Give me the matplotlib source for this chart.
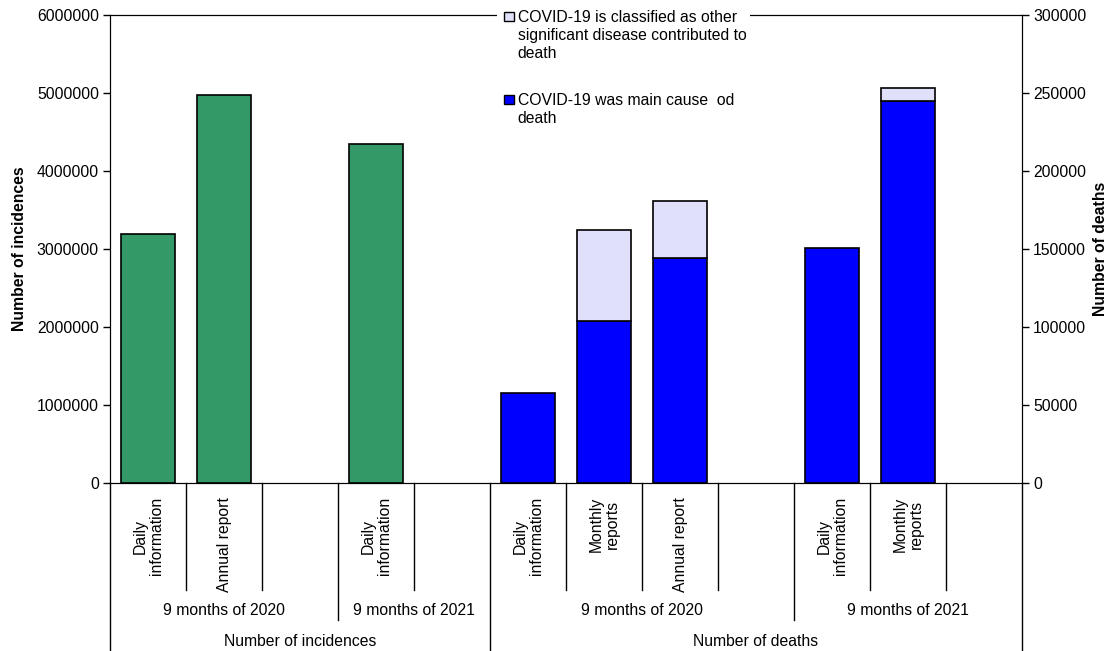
import matplotlib.pyplot as plt
import matplotlib.transforms as mtransforms
from matplotlib.patches import Rectangle

plt.rcParams['font.family'] = ['Liberation Sans', 'DejaVu Sans']
plt.rcParams['font.size'] = 11.3

# one slot per category on the x axis (12 slots, some empty)
slot_labels = ["Daily\ninformation", "Annual report", "",
               "Daily\ninformation", "",
               "Daily\ninformation", "Monthly\nreports", "Annual report", "",
               "Daily\ninformation", "Monthly\nreports", ""]

# incidences (left axis)
inc_slots = [0, 1, 3]
incidences = [3190000, 4970000, 4340000]

# deaths (right axis), stacked
death_slots = [5, 6, 7, 9, 10]
deaths_main = [57500, 104000, 144500, 150400, 244800]
deaths_other = [0, 58200, 36400, 0, 8700]

# group labels: (text, first slot, end slot)
groups_mid = [("9 months of 2020", 0, 3), ("9 months of 2021", 3, 5),
              ("9 months of 2020", 5, 9), ("9 months of 2021", 9, 12)]
groups_top = [("Number of incidences", 0, 5), ("Number of deaths", 5, 12)]

legend_labels = ["COVID-19 is classified as other\nsignificant disease contributed to\ndeath",
                 "COVID-19 was main cause  od\ndeath"]

green = "#339966"
blue = "#0000ff"
lilac = "#e0e0fa"

W, H = 1111, 651
fig = plt.figure(figsize=(W / 100, H / 100), dpi=100)
ax = fig.add_axes([110 / W, 1 - 483 / H, 912 / W, 468 / H])
ax2 = ax.twinx()

w = 0.72
ax.bar([s + 0.5 for s in inc_slots], incidences, width=w, color=green,
       edgecolor="black", linewidth=1.2)

xs = [s + 0.5 for s in death_slots]
ax2.bar(xs, deaths_main, width=w, color=blue, edgecolor="black", linewidth=1.2)
for x, b, h in zip(xs, deaths_main, deaths_other):
    if h > 0:
        ax2.bar(x, h, bottom=b, width=w, color=lilac, edgecolor="black", linewidth=1.2)

ax.set_xlim(0, 12)
ax.set_ylim(0, 6000000)
ax.set_yticks(range(0, 6000001, 1000000))
ax.set_yticklabels([str(v) for v in range(0, 6000001, 1000000)])
ax2.set_ylim(0, 300000)
ax2.set_yticks(range(0, 300001, 50000))
ax2.set_yticklabels([str(v) for v in range(0, 300001, 50000)])
ax.set_xticks([])
ax.tick_params(axis="y", direction="out", length=5, width=1, pad=3)
ax2.tick_params(axis="y", direction="out", length=5, width=1, pad=3)
ax.set_ylabel("Number of incidences", fontweight="bold", labelpad=7)
ax2.set_ylabel("Number of deaths", fontweight="bold", labelpad=5)

# category axis: separators and labels below the plot
trans = mtransforms.blended_transform_factory(ax.transData, ax.transAxes)
lvl1, lvl2, lvl3 = -0.228, -0.293, -0.36
top_edges = {0, 5, 12}
mid_edges = {3, 9}
for b in range(13):
    if b in top_edges:
        y0 = lvl3
    elif b in mid_edges:
        y0 = lvl2
    else:
        y0 = lvl1
    ax.plot([b, b], [0, y0], color="black", lw=1, transform=trans, clip_on=False)

for i, lab in enumerate(slot_labels):
    if lab:
        ax.text(i + 0.5, -0.03, lab, rotation=90, ha="center", va="top",
                multialignment="center", linespacing=1.1, transform=trans)
for lab, a, b in groups_mid:
    ax.text((a + b) / 2, -0.273, lab, ha="center", va="center", transform=trans)
for lab, a, b in groups_top:
    ax.text((a + b) / 2, -0.339, lab, ha="center", va="center", transform=trans)

# legend drawn by hand so the swatch sits on the first text line
fig.add_artist(Rectangle((497 / W, 1 - 128 / H), 253 / W, 128 / H,
                         transform=fig.transFigure, facecolor="white",
                         edgecolor="none", zorder=5))
for (col, lab, cap_top) in zip([lilac, blue], legend_labels, [12, 95]):
    fig.add_artist(Rectangle((504 / W, 1 - (cap_top + 9) / H), 9.5 / W, 9 / H,
                             transform=fig.transFigure, facecolor=col,
                             edgecolor="black", lw=1, zorder=6))
    fig.text(517.5 / W, 1 - (cap_top - 2) / H, lab, ha="left", va="top",
             linespacing=1.25, zorder=6)

fig.savefig("out.png", dpi=100)
